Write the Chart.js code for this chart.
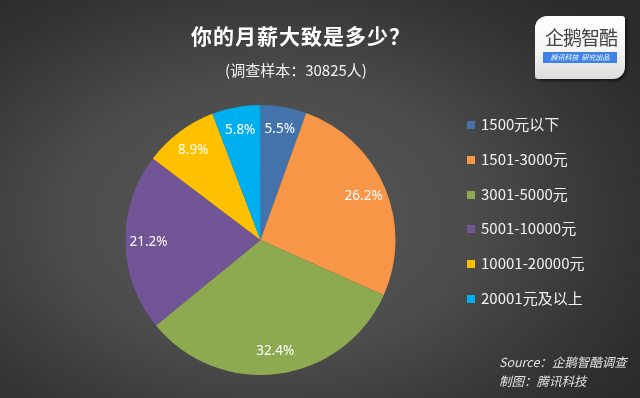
<!DOCTYPE html>
<html>
<head>
<meta charset="utf-8">
<script src="https://cdn.jsdelivr.net/npm/chart.js@4"></script>
<style>
    html, body { margin: 0; padding: 0; }
    body {
        width: 640px; height: 398px; overflow: hidden; position: relative;
        background: radial-gradient(ellipse 70% 75% at 42% 55%, #585858 0%, #4c4c4c 45%, #343434 80%, #2a2a2a 100%);
        font-family: "Noto Sans CJK SC", "Noto Sans", sans-serif;
        color: #fff;
    }
    #chart { position: absolute; left: 0; top: 0; }
    .title {
        position: absolute; left: 191px; top: 21px; width: 220px; text-align: center;
        font-size: 21px; font-weight: bold; line-height: 28px; white-space: nowrap; letter-spacing: 1px;
    }
    .subtitle {
        position: absolute; left: 196px; top: 59px; width: 200px; text-align: center;
        font-size: 15px; line-height: 22px; white-space: nowrap; color: #f2f2f2;
    }
    .logo {
        position: absolute; left: 535px; top: 16px; width: 90px; height: 63px;
        background: linear-gradient(#ffffff 0%, #f4f4f4 55%, #dcdcdc 100%);
        border-radius: 12px 3px 12px 3px;
        box-shadow: 2px 2px 3px rgba(0,0,0,0.5);
    }
    .logo .name {
        position: absolute; left: 5px; top: 10px; width: 82px; text-align: center;
        font-size: 19px; line-height: 22px; color: #444; letter-spacing: -1px;
    }
    .logo .bar {
        position: absolute; left: 8px; top: 36px; width: 74px; height: 11px;
        background: #3d82e6; color: #fff; font-size: 7px; line-height: 11px;
        font-style: italic; text-align: center; white-space: nowrap;
    }
    #legend { position: absolute; left: 467px; top: 113px; margin: 0; padding: 0; list-style: none; }
    #legend li {
        height: 34.8px; line-height: 22px; font-size: 15px; color: #f0f0f0; white-space: nowrap;
    }
    #legend .sw { display: inline-block; width: 8px; height: 8px; margin-right: 6px; vertical-align: 1px; }
    .source {
        position: absolute; left: 499px; top: 352px; font-size: 12.5px; line-height: 19px;
        font-style: italic; color: #e2e2e2; white-space: nowrap;
    }
</style>
</head>
<body>
<canvas id="chart" width="640" height="398"></canvas>
<div class="title">你的月薪大致是多少？</div>
<div class="subtitle">(调查样本：30825人)</div>
<div class="logo">
    <div class="name">企鹅智酷</div>
    <div class="bar">腾讯科技&nbsp; 研究出品</div>
</div>
<ul id="legend"></ul>
<div class="source">Source：企鹅智酷调查<br>制图：腾讯科技</div>
<script>
// salary bands and their share of respondents (%)
const bands = ['1500元以下', '1501-3000元', '3001-5000元', '5001-10000元', '10001-20000元', '20001元及以上'];
const shares = [5.5, 26.2, 32.4, 21.2, 8.9, 5.8];
const sliceColors = ['#4472ab', '#f79646', '#8daa50', '#715597', '#ffc000', '#00afef'];

// legend on the right, built from the same arrays
const legendEl = document.getElementById('legend');
bands.forEach((band, i) => {
    const li = document.createElement('li');
    li.innerHTML = `<span class="sw" style="background:${sliceColors[i]}"></span>${band}`;
    legendEl.appendChild(li);
});

// percentage labels near the outer edge of each slice
const sliceLabels = {
    id: 'sliceLabels',
    afterDatasetsDraw(chart) {
        const ctx = chart.ctx;
        const meta = chart.getDatasetMeta(0);
        ctx.save();
        ctx.font = '13.5px "Noto Sans", sans-serif';
        ctx.fillStyle = '#ffffff';
        ctx.textAlign = 'center';
        ctx.textBaseline = 'middle';
        meta.data.forEach((arc, i) => {
            const p = arc.getProps(['x', 'y', 'startAngle', 'endAngle', 'outerRadius'], true);
            const mid = (p.startAngle + p.endAngle) / 2;
            const r = p.outerRadius * 0.83;
            ctx.fillText(shares[i].toFixed(1) + '%', p.x + Math.cos(mid) * r, p.y + Math.sin(mid) * r);
        });
        ctx.restore();
    }
};

new Chart(document.getElementById('chart'), {
    type: 'pie',
    data: {
        labels: bands,
        datasets: [{
            data: shares,
            backgroundColor: sliceColors,
            borderWidth: 0
        }]
    },
    options: {
        responsive: false,
        animation: false,
        layout: {
            padding: { left: 125, right: 244, top: 105, bottom: 23 }
        },
        plugins: {
            legend: { display: false },
            tooltip: { enabled: false }
        }
    },
    plugins: [sliceLabels]
});
</script>
</body>
</html>
